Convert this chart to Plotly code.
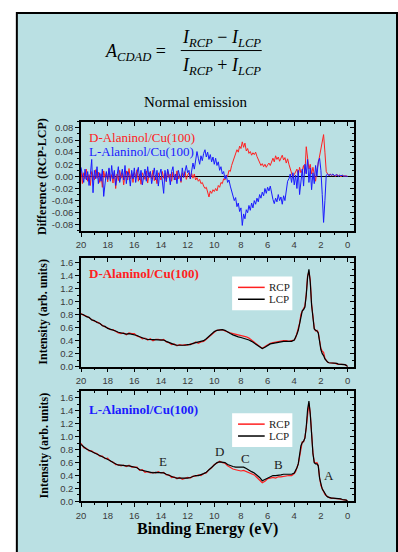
import plotly.graph_objects as go

# ---------------- data ----------------
E_diff = [round(20 - 0.1 * i, 1) for i in range(201)]

diff_D = [
    0.010, -0.012, 0.006, -0.004, 0.012, -0.008, 0.003, -0.015, 0.008, 0.002, -0.006, 0.011, -0.003, 0.007, -0.010, 0.004, -0.018, 0.009, -0.002, 0.006, -0.009,
    0.012, -0.005, 0.003, -0.011, 0.008, -0.020, 0.004, -0.007, 0.010, -0.003, 0.006, -0.014, 0.002, 0.009, -0.006, 0.013, -0.004, 0.005, -0.010, 0.007,
    -0.002, 0.011, -0.008, 0.004, -0.013, 0.006, 0.001, -0.005, 0.009, -0.011, 0.003, 0.008, -0.004, 0.010, -0.007, 0.002, -0.012, 0.006, 0.000, -0.006,
    0.008, -0.003, 0.005, -0.009, 0.010, -0.002, 0.004, -0.008, 0.007, 0.001, -0.006, 0.009, -0.004, 0.003, -0.010, 0.006, -0.001, 0.008, -0.005, 0.002,
    0.006, -0.004, 0.005, -0.003, 0.004, -0.006, -0.002, -0.008, -0.005, -0.012, -0.010, -0.016, -0.020, -0.018, -0.026, -0.034, -0.024, -0.028, -0.022, -0.025,
    -0.020, -0.024, -0.015, -0.018, -0.010, -0.012, -0.004, -0.006, 0.002, 0.000, 0.010, 0.008, 0.018, 0.024, 0.030, 0.036, 0.044, 0.040, 0.050, 0.046,
    0.057, 0.048, 0.055, 0.042, 0.046, 0.038, 0.041, 0.035, 0.039, 0.036, 0.040, 0.033, 0.028, 0.022, 0.018, 0.021, 0.016, 0.020, 0.015, 0.019,
    0.022, 0.018, 0.026, 0.030, 0.024, 0.034, 0.028, 0.032, 0.025, 0.030, 0.035, 0.027, 0.031, 0.022, 0.029, 0.020, 0.012, 0.004, -0.002, 0.003,
    0.008, 0.012, 0.002, 0.015, 0.006, 0.010, 0.018, 0.005, 0.049, 0.030, 0.012, 0.020, 0.004, 0.015, 0.000, -0.008, 0.010, 0.022, 0.030, 0.045,
    0.058, 0.069, 0.040, 0.008, 0.004, 0.002, 0.004, 0.001, 0.003, 0.002, 0.000, 0.003, 0.001, 0.002, -0.001, 0.002, 0.001, 0.000, 0.001, 0.000,
]

diff_L = [
    0.015, 0.004, -0.010, 0.012, -0.006, 0.008, -0.015, 0.003, 0.028, -0.027, 0.010, -0.004, 0.016, -0.012, 0.006, -0.008, 0.012, -0.033, -0.010, 0.008, -0.005,
    0.014, -0.008, 0.018, -0.004, 0.010, -0.015, 0.006, 0.016, -0.010, 0.004, 0.012, -0.006, 0.018, -0.012, 0.008, 0.002, -0.016, 0.010, -0.004, 0.014,
    -0.010, 0.006, 0.015, -0.006, 0.010, -0.014, 0.004, 0.012, -0.008, 0.016, -0.002, 0.008, -0.012, 0.006, 0.014, -0.006, 0.010, -0.016, 0.004, 0.012,
    -0.004, -0.028, 0.010, -0.008, 0.012, 0.002, -0.014, 0.008, 0.016, -0.006, 0.004, -0.012, 0.010, 0.002, -0.008, 0.014, -0.002, 0.008, 0.018, 0.006,
    0.010, -0.004, 0.014, 0.022, 0.012, 0.028, 0.041, 0.030, 0.020, 0.034, 0.026, 0.038, 0.044, 0.032, 0.040, 0.028, 0.036, 0.024, 0.032, 0.020,
    0.030, 0.018, 0.024, 0.010, 0.016, 0.004, 0.008, -0.004, 0.002, -0.010, -0.006, -0.016, -0.024, -0.030, -0.040, -0.035, -0.050, -0.044, -0.058, -0.052,
    -0.081, -0.062, -0.070, -0.055, -0.060, -0.048, -0.056, -0.044, -0.052, -0.040, -0.046, -0.036, -0.042, -0.030, -0.036, -0.026, -0.032, -0.020, -0.028, -0.018,
    -0.024, -0.016, -0.030, -0.038, -0.045, -0.036, -0.042, -0.030, -0.040, -0.034, -0.046, -0.032, -0.040, -0.020, -0.008, -0.004, 0.004, -0.010, 0.006, -0.014,
    0.002, -0.020, 0.010, -0.030, -0.006, 0.012, -0.016, 0.020, 0.004, 0.028, -0.010, 0.014, -0.022, 0.006, -0.012, 0.018, 0.000, 0.024, 0.030, 0.010,
    -0.030, -0.076, -0.040, 0.002, 0.004, 0.001, 0.003, 0.002, 0.004, 0.001, 0.002, 0.003, 0.000, 0.002, 0.001, 0.002, 0.000, 0.001, 0.000, 0.000,
]

E_int = [round(20 - 0.2 * i, 1) for i in range(80)] + [round(4.0 - 0.1 * i, 1) for i in range(41)]

lcp_D = [
    0.81, 0.80, 0.77, 0.76, 0.72, 0.71, 0.68, 0.67, 0.63, 0.62, 0.59, 0.58, 0.56, 0.55, 0.53, 0.52, 0.51, 0.50, 0.51, 0.50,
    0.50, 0.48, 0.46, 0.44, 0.43, 0.42, 0.42, 0.41, 0.42, 0.41,
    0.42, 0.41, 0.39, 0.37, 0.35, 0.34, 0.33, 0.33, 0.32, 0.33,
    0.34, 0.34, 0.36, 0.37, 0.37, 0.38, 0.40, 0.43, 0.47, 0.51,
    0.54, 0.56, 0.57, 0.57, 0.56, 0.53, 0.51, 0.49, 0.47, 0.46,
    0.45, 0.44, 0.43, 0.41, 0.39, 0.36, 0.33, 0.30, 0.28, 0.30,
    0.33, 0.35, 0.36, 0.37, 0.37, 0.38, 0.39, 0.39, 0.39, 0.39,
    0.41, 0.45, 0.50, 0.56, 0.66, 0.80, 0.86, 0.88, 0.92, 1.10,
    1.38, 1.50, 1.30, 0.95, 0.70, 0.58, 0.56, 0.55, 0.52, 0.35,
    0.26, 0.20, 0.17, 0.12, 0.09, 0.07, 0.06, 0.06, 0.05, 0.05,
    0.05, 0.05, 0.05, 0.04, 0.04, 0.04, 0.04, 0.03, 0.03, 0.02, 0.00,
]
rcp_D = [
    0.82, 0.79, 0.78, 0.75, 0.73, 0.70, 0.69, 0.66, 0.64, 0.61, 0.60, 0.57, 0.57, 0.54, 0.52, 0.51, 0.52, 0.49, 0.52, 0.51,
    0.51, 0.47, 0.46, 0.43, 0.44, 0.41, 0.43, 0.40, 0.42, 0.42,
    0.41, 0.42, 0.38, 0.37, 0.34, 0.35, 0.32, 0.34, 0.33, 0.34,
    0.33, 0.35, 0.35, 0.38, 0.36, 0.38, 0.39, 0.42, 0.46, 0.50,
    0.53, 0.56, 0.56, 0.57, 0.55, 0.53, 0.52, 0.51, 0.50, 0.49,
    0.49, 0.47, 0.46, 0.44, 0.41, 0.38, 0.34, 0.31, 0.28, 0.31,
    0.34, 0.36, 0.37, 0.38, 0.38, 0.39, 0.40, 0.40, 0.39, 0.40,
    0.41, 0.44, 0.51, 0.57, 0.67, 0.81, 0.85, 0.89, 0.94, 1.12,
    1.40, 1.46, 1.34, 0.97, 0.72, 0.59, 0.55, 0.56, 0.53, 0.37,
    0.28, 0.24, 0.22, 0.13, 0.09, 0.07, 0.06, 0.06, 0.05, 0.05,
    0.05, 0.05, 0.04, 0.04, 0.04, 0.04, 0.03, 0.03, 0.03, 0.02, 0.00,
]
lcp_L = [
    0.88, 0.84, 0.81, 0.79, 0.77, 0.76, 0.73, 0.71, 0.69, 0.67, 0.66, 0.63, 0.60, 0.58, 0.56, 0.56, 0.55, 0.55, 0.55, 0.54,
    0.54, 0.52, 0.49, 0.48, 0.46, 0.45, 0.45, 0.44, 0.45, 0.45,
    0.45, 0.44, 0.42, 0.40, 0.38, 0.37, 0.36, 0.36, 0.35, 0.36,
    0.36, 0.37, 0.39, 0.40, 0.40, 0.41, 0.43, 0.45, 0.49, 0.53,
    0.57, 0.60, 0.61, 0.61, 0.60, 0.57, 0.55, 0.54, 0.53, 0.53,
    0.52, 0.53, 0.51, 0.48, 0.46, 0.44, 0.41, 0.37, 0.32, 0.34,
    0.37, 0.39, 0.40, 0.40, 0.40, 0.41, 0.42, 0.42, 0.42, 0.42,
    0.44, 0.47, 0.52, 0.58, 0.70, 0.86, 0.91, 0.93, 0.98, 1.15,
    1.42, 1.55, 1.35, 1.00, 0.74, 0.60, 0.58, 0.58, 0.55, 0.36,
    0.25, 0.19, 0.16, 0.12, 0.09, 0.07, 0.06, 0.06, 0.05, 0.05,
    0.05, 0.05, 0.04, 0.04, 0.04, 0.04, 0.03, 0.03, 0.03, 0.02, 0.00,
]
rcp_L = [
    0.90, 0.83, 0.82, 0.78, 0.78, 0.75, 0.74, 0.70, 0.70, 0.66, 0.67, 0.62, 0.61, 0.57, 0.57, 0.55, 0.56, 0.54, 0.56, 0.53,
    0.53, 0.53, 0.48, 0.49, 0.45, 0.46, 0.44, 0.45, 0.44, 0.46,
    0.44, 0.45, 0.41, 0.41, 0.37, 0.38, 0.35, 0.37, 0.34, 0.36,
    0.37, 0.36, 0.39, 0.39, 0.41, 0.40, 0.43, 0.44, 0.49, 0.52,
    0.57, 0.59, 0.62, 0.60, 0.59, 0.55, 0.52, 0.50, 0.49, 0.48,
    0.47, 0.48, 0.46, 0.44, 0.42, 0.41, 0.37, 0.33, 0.29, 0.31,
    0.35, 0.36, 0.37, 0.36, 0.38, 0.38, 0.39, 0.39, 0.40, 0.40,
    0.43, 0.46, 0.51, 0.58, 0.69, 0.85, 0.92, 0.92, 0.99, 1.14,
    1.40, 1.52, 1.37, 1.02, 0.75, 0.61, 0.59, 0.60, 0.56, 0.37,
    0.24, 0.20, 0.15, 0.11, 0.09, 0.07, 0.06, 0.05, 0.05, 0.05,
    0.05, 0.04, 0.04, 0.04, 0.04, 0.03, 0.03, 0.03, 0.02, 0.02, 0.00,
]

x_ticks = [20, 18, 16, 14, 12, 10, 8, 6, 4, 2, 0]
diff_ticks = [0.08, 0.06, 0.04, 0.02, 0.00, -0.02, -0.04, -0.06, -0.08]
diff_ticklabels = ["0.08", "0.06", "0.04", "0.02", "0.00", "-0.02", "-0.04", "-0.06", "-0.08"]
int_ticks = [0.0, 0.2, 0.4, 0.6, 0.8, 1.0, 1.2, 1.4, 1.6]
int_ticklabels = ["0.0", "0.2", "0.4", "0.6", "0.8", "1.0", "1.2", "1.4", "1.6"]
legend_names = ["RCP", "LCP"]

# ---------------- layout helpers ----------------
W, H = 398, 552
def px(x): return x / W
def py(y): return 1 - y / H

BG = "#bae0e3"
RED = "#ff2020"
BLUE = "#1a1aff"
SERIF = "Liberation Serif"
SANS = "Liberation Sans"
TICKFONT = dict(family=SANS, size=9.5, color="#3a3a3a")

XDOM = [px(77), px(353)]
XRANGE = [20, -0.45]
YDOMS = [[py(233), py(123)], [py(370), py(260)], [py(506), py(395)]]
YRANGES = [[-0.09, 0.09], [0, 1.68], [0, 1.7]]

fig = go.Figure()

# panel 1: difference
fig.add_trace(go.Scatter(x=E_diff, y=diff_D, mode="lines", line=dict(color=RED, width=1),
                         xaxis="x", yaxis="y", showlegend=False))
fig.add_trace(go.Scatter(x=E_diff, y=diff_L, mode="lines", line=dict(color=BLUE, width=1),
                         xaxis="x", yaxis="y", showlegend=False))
# panel 2: D-Alaninol
fig.add_trace(go.Scatter(x=E_int, y=rcp_D, mode="lines", name="RCP", line=dict(color=RED, width=1.2),
                         xaxis="x2", yaxis="y2", showlegend=False))
fig.add_trace(go.Scatter(x=E_int, y=lcp_D, mode="lines", name="LCP", line=dict(color="black", width=1.2),
                         xaxis="x2", yaxis="y2", showlegend=False))
# panel 3: L-Alaninol
fig.add_trace(go.Scatter(x=E_int, y=rcp_L, mode="lines", name="RCP", line=dict(color=RED, width=1.2),
                         xaxis="x3", yaxis="y3", showlegend=False))
fig.add_trace(go.Scatter(x=E_int, y=lcp_L, mode="lines", name="LCP", line=dict(color="black", width=1.2),
                         xaxis="x3", yaxis="y3", showlegend=False))

layout = dict(
    width=W, height=H, margin=dict(l=0, r=0, t=0, b=0),
    paper_bgcolor="white", plot_bgcolor=BG,
    showlegend=False,
)

for k in range(3):
    xs = "" if k == 0 else str(k + 1)
    ys = xs
    layout["xaxis" + xs] = dict(
        domain=XDOM, range=XRANGE, anchor="y" + ys,
        showline=True, linecolor="black", linewidth=1.5, mirror=True,
        ticks="outside", ticklen=4, tickwidth=1, tickcolor="black",
        tickvals=x_ticks, ticktext=[str(v) for v in x_ticks], tickfont=TICKFONT,
        minor=dict(ticks="outside", ticklen=2, dtick=1, tick0=0, tickcolor="black", showgrid=False),
        showgrid=False, zeroline=False,
    )
    if k == 0:
        yt, ytt, mdt = diff_ticks, diff_ticklabels, 0.01
    else:
        yt, ytt, mdt = int_ticks, int_ticklabels, 0.1
    layout["yaxis" + ys] = dict(
        domain=YDOMS[k], range=YRANGES[k], anchor="x" + xs,
        showline=True, linecolor="black", linewidth=1.5, mirror=True,
        ticks="outside", ticklen=4, tickwidth=1, tickcolor="black",
        tickvals=yt, ticktext=ytt, tickfont=TICKFONT,
        minor=dict(ticks="outside", ticklen=2, dtick=mdt, tick0=0, tickcolor="black", showgrid=False),
        showgrid=False, zeroline=(k == 0), zerolinecolor="black", zerolinewidth=1,
    )
    # inside ticks on top and right
    ox = str(k + 4)
    layout["xaxis" + ox] = dict(
        overlaying="x" + xs, side="top", anchor="y" + ys, range=XRANGE,
        ticks="inside", ticklen=4, tickcolor="black", tickvals=x_ticks, showticklabels=False,
        minor=dict(ticks="inside", ticklen=2, dtick=1, tick0=0, tickcolor="black", showgrid=False),
        showline=False, showgrid=False, zeroline=False,
    )
    layout["yaxis" + ox] = dict(
        overlaying="y" + ys, side="right", anchor="x" + xs, range=YRANGES[k],
        ticks="inside", ticklen=4, tickcolor="black", tickvals=yt, showticklabels=False,
        minor=dict(ticks="inside", ticklen=2, dtick=mdt, tick0=0, tickcolor="black", showgrid=False),
        showline=False, showgrid=False, zeroline=False,
    )
    fig.add_trace(go.Scatter(x=[None], y=[None], xaxis="x" + ox, yaxis="y" + ys,
                             showlegend=False, hoverinfo="skip"))
    fig.add_trace(go.Scatter(x=[None], y=[None], xaxis="x" + xs, yaxis="y" + ox,
                             showlegend=False, hoverinfo="skip"))

fig.update_layout(**layout)

# frame / background
fig.add_shape(type="rect", xref="paper", yref="paper", x0=px(12), x1=px(397), y0=py(575), y1=py(13),
              fillcolor=BG, line=dict(color="black", width=2), layer="below")
# fraction bar
fig.add_shape(type="line", xref="paper", yref="paper", x0=px(178), x1=px(260), y0=py(51), y1=py(51),
              line=dict(color="black", width=1))

def ann(text, x, y, size, color="black", xanchor="center", angle=0, bold=False, family=SERIF):
    if bold:
        text = "<b>" + text + "</b>"
    fig.add_annotation(text=text, x=px(x), y=py(y), xref="paper", yref="paper",
                       xanchor=xanchor, yanchor="middle", showarrow=False, textangle=angle,
                       font=dict(family=family, size=size, color=color))

# compact legends (white box, line samples, labels)
for top in (279, 417):
    fig.add_shape(type="rect", xref="paper", yref="paper", x0=px(230), x1=px(291), y0=py(top + 34), y1=py(top),
                  fillcolor="white", line=dict(width=0))
    for i, (nm, col) in enumerate(zip(legend_names, [RED, "black"])):
        yy = top + 11 + 12 * i
        fig.add_shape(type="line", xref="paper", yref="paper", x0=px(236), x1=px(263), y0=py(yy), y1=py(yy),
                      line=dict(color=col, width=1.5))
        ann(nm, 265, yy, 11, color="#222", xanchor="left")

ann("<i>A</i><sub><i>CDAD</i></sub> =", 165, 53, 18, xanchor="right")
ann("<i>I</i><sub><i>RCP</i></sub> − <i>I</i><sub><i>LCP</i></sub>", 219, 39, 18)
ann("<i>I</i><sub><i>RCP</i></sub> + <i>I</i><sub><i>LCP</i></sub>", 219, 67, 18)
ann("Normal emission", 193, 103, 15)

ann("D-Alaninol/Cu(100)", 83, 139, 13, color=RED, xanchor="left")
ann("L-Alaninol/Cu(100)", 83, 153, 13, color=BLUE, xanchor="left")
ann("D-Alaninol/Cu(100)", 83, 276, 13, color=RED, xanchor="left", bold=True)
ann("L-Alaninol/Cu(100)", 83, 413, 13, color=BLUE, xanchor="left", bold=True)

for lab, xx, yy in [("E", 160, 466), ("D", 217, 456), ("C", 244, 463), ("B", 277, 469), ("A", 328, 480)]:
    ann(lab, xx, yy, 13, color="#222")

ann("Difference (RCP-LCP)", 38, 178, 12, angle=-90, bold=True)
ann("Intensity (arb. units)", 39, 315, 12, angle=-90, bold=True)
ann("Intensity (arb. units)", 39, 450, 12, angle=-90, bold=True)
ann("Binding Energy (eV)", 205, 534, 16, bold=True)

fig.write_html("out.html", config={"displayModeBar": False},
               post_script="document.body.style.margin='0px';document.body.style.overflow='hidden';")
